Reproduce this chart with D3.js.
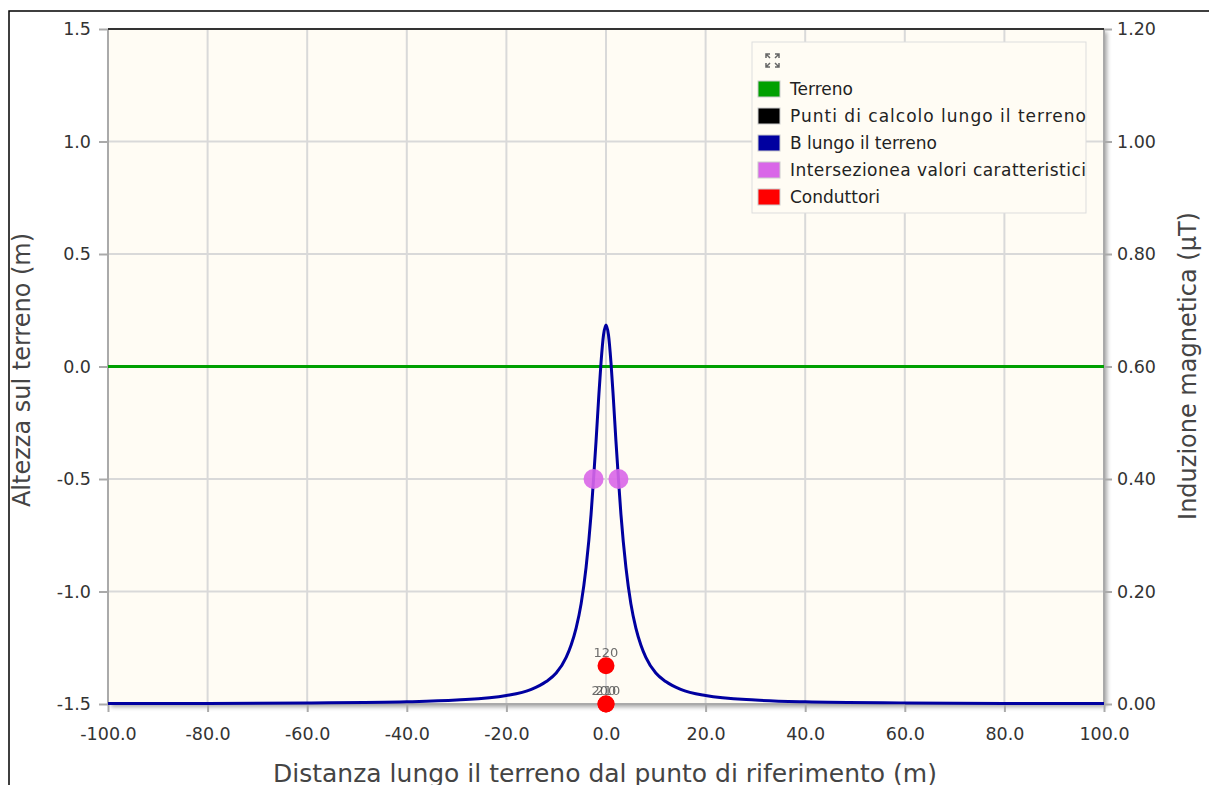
<!DOCTYPE html>
<html><head><meta charset="utf-8">
<script src="https://cdn.jsdelivr.net/npm/d3@7"></script>
<style>
body{margin:0;background:#fff;}
svg{display:block;font-family:"DejaVu Sans",sans-serif;}
</style></head>
<body><svg id="c" width="1209" height="785"></svg>
<script>
// ---- data ----
const xTicks = [-100,-80,-60,-40,-20,0,20,40,60,80,100];
const yLeftTicks = [1.5,1.0,0.5,0.0,-0.5,-1.0,-1.5];
const yRightTicks = [0,0.2,0.4,0.6,0.8,1.0,1.2];
const terrenoX = [-100, 100];
const terrenoY = [0, 0];
const bX = [-100,-80,-60,-40,-30,-20,-15,-12,-10,-8,-7,-6,-5,-4,-3,-2.5,-2,-1.5,-1,-0.5,0,0.5,1,1.5,2,2.5,3,4,5,6,7,8,10,12,15,20,30,40,60,80,100];
const bVal = [0.001,0.001,0.002,0.004,0.007,0.015,0.026,0.040,0.055,0.083,0.105,0.135,0.178,0.243,0.337,0.400,0.467,0.540,0.607,0.656,0.674,0.656,0.607,0.540,0.467,0.400,0.337,0.243,0.178,0.135,0.105,0.083,0.055,0.040,0.026,0.015,0.007,0.004,0.002,0.001,0.001];
const interX = [-2.5, 2.5];
const interB = [0.4, 0.4];
const condX = [0, 0, 0];
const condY = [-1.33, -1.5, -1.5];
const condLabels = ["120", "200", "210"];
const legendNames = ["Terreno","Punti di calcolo lungo il terreno","B lungo il terreno","Intersezionea valori caratteristici","Conduttori"];
const legendColors = ["#00a000","#000000","#0000a0","#d966e8","#ff0000"];

// ---- layout ----
const svg = d3.select("#c");
const L = 108, R = 1104, T = 29, B = 704;
const x = d3.scaleLinear().domain([-100,100]).range([L,R]);
const yl = d3.scaleLinear().domain([-1.5,1.5]).range([B,T]);
const yr = d3.scaleLinear().domain([0,1.2]).range([B,T]);
const fmt = p => d => d3.format(p)(d).replace("\u2212","-");

// outer frame
svg.append("path").attr("d","M9,790 L9,11 L1215,11").attr("fill","none").attr("stroke","#000").attr("stroke-width",1.5);

// shadow
const defs = svg.append("defs");
const f = defs.append("filter").attr("id","sh").attr("x","-5%").attr("y","-5%").attr("width","110%").attr("height","110%");
f.append("feDropShadow").attr("dx",3).attr("dy",3).attr("stdDeviation",2).attr("flood-color","#000").attr("flood-opacity",0.35);

svg.append("rect").attr("x",L).attr("y",T).attr("width",R-L).attr("height",B-T)
  .attr("fill","#fffcf4").attr("filter","url(#sh)");

// grid
const g = svg.append("g");
g.selectAll("line.vx").data(xTicks.slice(1,-1)).join("line")
  .attr("x1",d=>x(d)).attr("x2",d=>x(d)).attr("y1",T).attr("y2",B)
  .attr("stroke","#d9d9d9").attr("stroke-width",2);
g.selectAll("line.hy").data(yLeftTicks.slice(1,-1)).join("line")
  .attr("x1",L).attr("x2",R).attr("y1",d=>yl(d)).attr("y2",d=>yl(d))
  .attr("stroke","#d9d9d9").attr("stroke-width",2);

// borders
svg.append("line").attr("x1",L).attr("x2",L).attr("y1",T).attr("y2",B).attr("stroke","#aaa").attr("stroke-width",2);
svg.append("line").attr("x1",R).attr("x2",R).attr("y1",T).attr("y2",B).attr("stroke","#aaa").attr("stroke-width",2);
svg.append("line").attr("x1",L).attr("x2",R).attr("y1",B).attr("y2",B).attr("stroke","#aaa").attr("stroke-width",2);
svg.append("line").attr("x1",L).attr("x2",R).attr("y1",T).attr("y2",T).attr("stroke","#333").attr("stroke-width",2);

// axes
const fs = "17.5px";
const axB = svg.append("g").attr("transform",`translate(0,${B})`)
  .call(d3.axisBottom(x).tickValues(xTicks).tickFormat(fmt(".1f")).tickSize(8).tickPadding(12));
const axL = svg.append("g").attr("transform",`translate(${L},0)`)
  .call(d3.axisLeft(yl).tickValues(yLeftTicks).tickFormat(fmt(".1f")).tickSize(9).tickPadding(8));
const axR = svg.append("g").attr("transform",`translate(${R},0)`)
  .call(d3.axisRight(yr).tickValues(yRightTicks).tickFormat(fmt(".2f")).tickSize(8).tickPadding(5));
[axB,axL,axR].forEach(a=>{
  a.select(".domain").remove();
  a.selectAll("line").attr("stroke","#aaa").attr("stroke-width",2);
  a.selectAll("text").attr("fill","#333").style("font-size",fs).style("font-family","DejaVu Sans, sans-serif");
});
axB.selectAll("text").attr("dy","0.9em");

// titles
svg.append("text").attr("x",605).attr("y",782).attr("text-anchor","middle")
  .attr("fill","#444").style("font-size","25px").text("Distanza lungo il terreno dal punto di riferimento (m)");
svg.append("text").attr("transform","translate(30,370) rotate(-90)").attr("text-anchor","middle")
  .attr("fill","#444").style("font-size","24px").text("Altezza sul terreno (m)");
svg.append("text").attr("transform","translate(1196,366) rotate(-90)").attr("text-anchor","middle")
  .attr("fill","#444").style("font-size","24px").text("Induzione magnetica (µT)");

// terreno
svg.append("path").datum(d3.zip(terrenoX,terrenoY))
  .attr("d",d3.line().x(d=>x(d[0])).y(d=>yl(d[1])))
  .attr("fill","none").attr("stroke","#00a000").attr("stroke-width",3);

// B curve
svg.append("path").datum(d3.zip(bX,bVal))
  .attr("d",d3.line().x(d=>x(d[0])).y(d=>yr(d[1])).curve(d3.curveMonotoneX))
  .attr("fill","none").attr("stroke","#0000a0").attr("stroke-width",3);

// intersections
svg.selectAll("circle.int").data(d3.zip(interX,interB)).join("circle")
  .attr("cx",d=>x(d[0])).attr("cy",d=>yr(d[1])).attr("r",10)
  .attr("fill","#d966e8").attr("opacity",0.9);

// conductors
const cd = condX.map((v,i)=>({x:v,y:condY[i],l:condLabels[i]}));
svg.selectAll("circle.cond").data(cd).join("circle")
  .attr("cx",d=>x(d.x)).attr("cy",d=>yl(d.y)).attr("r",8.5).attr("fill","#ff0000");
svg.selectAll("text.cl").data(cd).join("text")
  .attr("x",(d,i)=>x(d.x) + (i===2?2:(i===1?-2:0))).attr("y",d=>yl(d.y)-9)
  .attr("text-anchor","middle").attr("fill","#555").attr("opacity",0.85)
  .style("font-size","13px").text(d=>d.l);

// legend
const lg = svg.append("g");
lg.append("rect").attr("x",752).attr("y",42).attr("width",334).attr("height",171)
  .attr("fill","#fffcf4").attr("stroke","#ddd").attr("stroke-width",1);
// expand icon
const ic = lg.append("g").attr("stroke","#666").attr("stroke-width",1.5).attr("fill","none");
[[766,54,1,1],[779,54,-1,1],[766,67,1,-1],[779,67,-1,-1]].forEach(([cx,cy,sx,sy])=>{
  ic.append("path").attr("d",`M${cx},${cy+4*sy} L${cx},${cy} L${cx+4*sx},${cy} M${cx},${cy} L${cx+4*sx},${cy+4*sy}`);
});
legendNames.forEach((n,i)=>{
  const yy = 89 + i*27;
  lg.append("rect").attr("x",758).attr("y",yy-8).attr("width",22).attr("height",16)
    .attr("fill",legendColors[i]).attr("stroke","#ccc").attr("stroke-width",1);
  lg.append("text").attr("x",790).attr("y",yy+6).attr("fill","#222")
    .style("font-size","17px").attr("textLength", n.length > 30 ? 296 : null).text(n);
});
</script></body></html>
